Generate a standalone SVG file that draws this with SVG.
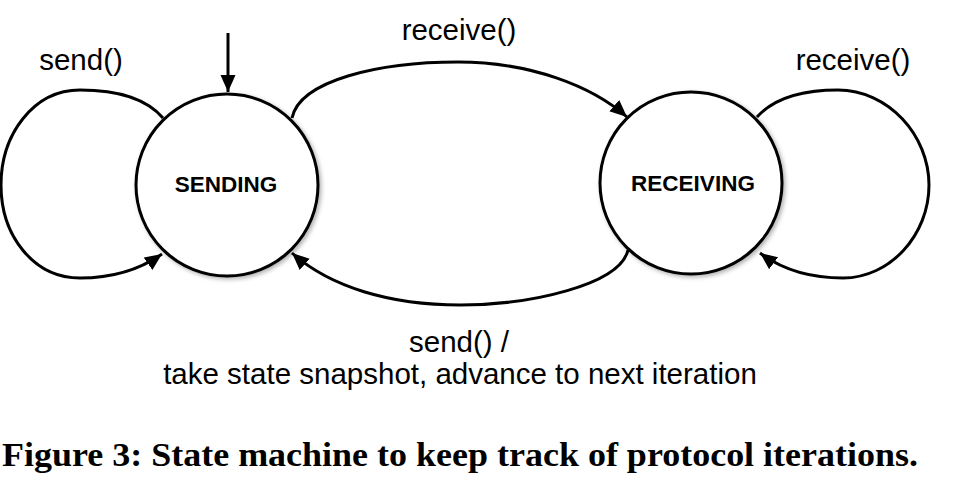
<svg xmlns="http://www.w3.org/2000/svg" width="976" height="492" viewBox="0 0 976 492">
  <style>
    .bg { fill: #ffffff; }
    .state { fill: #ffffff; stroke: #000000; stroke-width: 3; }
    .state-label { font-family: "Liberation Sans", Arial, Helvetica, sans-serif; font-weight: bold; font-size: 22.5px; fill: #000000; text-anchor: middle; }
    .edge { fill: none; stroke: #000000; stroke-width: 3; marker-end: url(#arrow); }
    .edge-label { font-family: "Liberation Sans", Arial, Helvetica, sans-serif; font-size: 29.5px; fill: #000000; text-anchor: middle; }
    .caption { font-family: "Liberation Serif", "Times New Roman", serif; font-weight: bold; font-size: 34px; fill: #000000; }
  </style>
  <defs>
    <marker id="arrow" markerUnits="userSpaceOnUse" markerWidth="20" markerHeight="16" refX="17" refY="7.5" orient="auto">
      <path d="M0,0 L17,7.5 L0,15 Z" fill="#000000"/>
    </marker>
    <filter id="shadow" x="-20%" y="-20%" width="140%" height="140%">
      <feDropShadow dx="2" dy="2" stdDeviation="2" flood-color="#000000" flood-opacity="0.3"/>
    </filter>
  </defs>
  <rect class="bg" x="0" y="0" width="976" height="492"/>

  <g id="connectors">
    <path id="init-arrow" class="edge" d="M228,33 L228,92"/>
    <path id="send-loop" class="edge" d="M163,118 C145,97 115,90 80,90 C33,90 1,135 1,185 C1,235 33,278 80,278 C115,278 142,268 162,254"/>
    <path id="receive-loop" class="edge" d="M757,117 C775,97 805,90 838,90 C888,90 929,135 929,185 C929,235 890,278 843,278 C805,278 780,268 760,253"/>
    <path id="receive-edge" class="edge" d="M292,118 C300,80 380,62 458,62 C530,62 592,86 627,117"/>
    <path id="send-edge" class="edge" d="M628,250 C620,285 530,305 460,305 C390,305 330,287 292,253"/>
  </g>

  <g id="labels">
    <text class="edge-label" x="81" y="70">send()</text>
    <text class="edge-label" x="459" y="40">receive()</text>
    <text class="edge-label" x="853" y="70">receive()</text>
    <text class="edge-label" x="459" y="352">send() /</text>
    <text class="edge-label" x="460" y="384">take state snapshot, advance to next iteration</text>
  </g>

  <g id="node-sending">
    <circle class="state" cx="227" cy="185" r="91" filter="url(#shadow)"/>
    <text class="state-label" x="226" y="192">SENDING</text>
  </g>

  <g id="node-receiving">
    <circle class="state" cx="691" cy="183" r="91" filter="url(#shadow)"/>
    <text class="state-label" x="693" y="191">RECEIVING</text>
  </g>

  <text class="caption" x="2" y="466" textLength="916" lengthAdjust="spacingAndGlyphs">Figure 3: State machine to keep track of protocol iterations.</text>
</svg>
